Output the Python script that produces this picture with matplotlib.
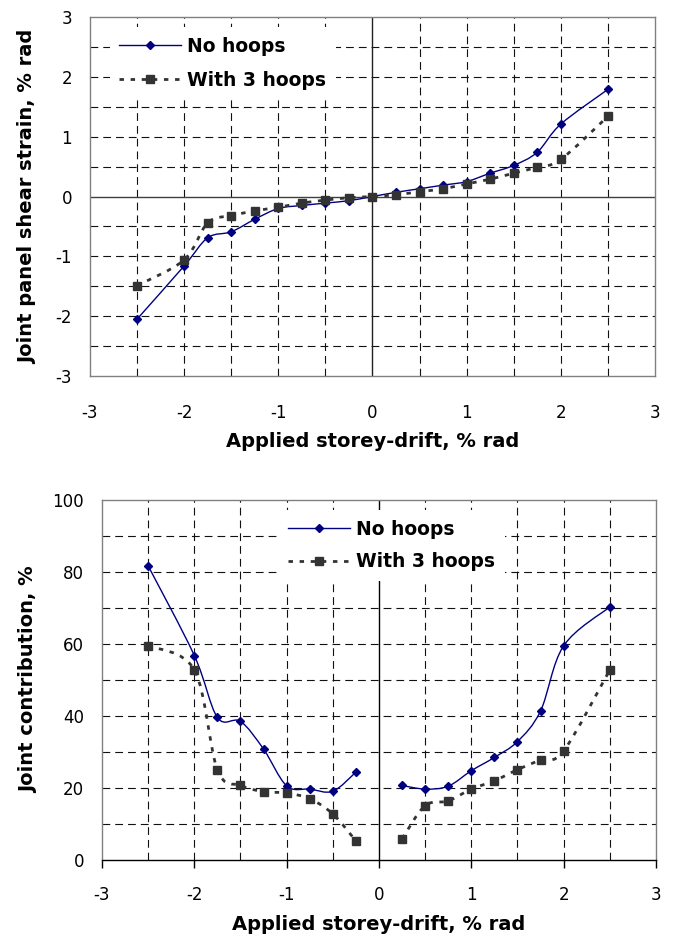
import matplotlib
matplotlib.use('Agg')
import matplotlib.pyplot as plt
from matplotlib.path import Path
from matplotlib.patches import PathPatch
from matplotlib.lines import Line2D
from matplotlib.ticker import MultipleLocator
import numpy as np

plt.rcParams['font.family'] = ['DejaVu Sans']
plt.rcParams['axes.unicode_minus'] = False

# storey drift steps, % rad
drift_top = [-2.5, -2, -1.75, -1.5, -1.25, -1, -0.75, -0.5, -0.25, 0,
             0.25, 0.5, 0.75, 1, 1.25, 1.5, 1.75, 2, 2.5]
strain_no_hoops = [-2.05, -1.16, -0.69, -0.59, -0.38, -0.20, -0.15, -0.11, -0.07, 0,
                   0.07, 0.13, 0.19, 0.25, 0.39, 0.52, 0.74, 1.21, 1.79]
strain_3_hoops = [-1.49, -1.06, -0.44, -0.32, -0.24, -0.18, -0.11, -0.06, -0.02, 0,
                  0.03, 0.08, 0.13, 0.21, 0.29, 0.39, 0.49, 0.62, 1.34]

drift_bottom = [-2.5, -2, -1.75, -1.5, -1.25, -1, -0.75, -0.5, -0.25,
                0.25, 0.5, 0.75, 1, 1.25, 1.5, 1.75, 2, 2.5]
contrib_no_hoops = [81.7, 56.8, 39.6, 38.5, 30.8, 20.6, 19.7, 19.1, 24.4,
                    20.7, 19.7, 20.5, 24.8, 28.5, 32.9, 41.4, 59.5, 70.3]
contrib_3_hoops = [59.5, 52.8, 25.0, 20.7, 19.0, 18.6, 17.0, 12.8, 5.3,
                   5.9, 15.1, 16.4, 19.7, 22.0, 25.1, 27.8, 30.3, 52.8]

labels = ["No hoops", "With 3 hoops"]

BLUE = "#000080"
GREY = "#333333"
DOTS = (0, (1.6, 2.4))
GRID_DASH = (0, (7, 4.5))


def smooth_path(xs, ys):
    """Excel-style smoothed line (Catmull-Rom as cubic Bezier)."""
    pts = np.column_stack([xs, ys]).astype(float)
    n = len(pts)
    verts = [pts[0]]
    codes = [Path.MOVETO]
    for i in range(n - 1):
        p0 = pts[i - 1] if i > 0 else pts[i]
        p1, p2 = pts[i], pts[i + 1]
        p3 = pts[i + 2] if i + 2 < n else pts[i + 1]
        verts += [p1 + (p2 - p0) / 6, p2 - (p3 - p1) / 6, p2]
        codes += [Path.CURVE4] * 3
    return Path(verts, codes)


def draw_series(ax, xs, ys, kind):
    xs = np.asarray(xs)
    ys = np.asarray(ys)
    if kind == "no":
        ax.add_patch(PathPatch(smooth_path(xs, ys), fill=False, edgecolor=BLUE,
                               lw=1.0, zorder=3))
        ax.plot(xs, ys, ls="none", marker="D", ms=4.5, color=BLUE, zorder=4)
    else:
        ax.add_patch(PathPatch(smooth_path(xs, ys), fill=False, edgecolor=GREY,
                               lw=2.0, linestyle=DOTS, capstyle="butt", zorder=3))
        ax.plot(xs, ys, ls="none", marker="s", ms=6, color=GREY, zorder=4)


def legend_handles():
    return [Line2D([], [], color=BLUE, lw=1.0, marker="D", ms=4.5),
            Line2D([], [], color=GREY, lw=2.0, ls=DOTS, marker="s", ms=6)]


def style_axes(ax):
    for s in ax.spines.values():
        s.set_color("#808080")
        s.set_linewidth(1.0)
    ax.tick_params(labelsize=12, length=0, pad=13)
    ax.set_xlim(-3, 3)
    ax.xaxis.set_major_locator(MultipleLocator(1))


fig = plt.figure(figsize=(6.75, 9.36), dpi=100)

# ---- top chart: joint panel shear strain ----
ax1 = fig.add_axes([0.1333, 0.5983, 0.837, 0.3835])
style_axes(ax1)
ax1.set_ylim(-3, 3)
ax1.yaxis.set_major_locator(MultipleLocator(1))
for v in np.arange(-2.5, 2.51, 0.5):
    if abs(v) > 1e-9:
        ax1.axvline(v, color="#111111", lw=0.8, ls=GRID_DASH, zorder=1)
        ax1.axhline(v, color="#111111", lw=0.8, ls=GRID_DASH, zorder=1)
ax1.axhline(0, color="#404040", lw=1.0, zorder=2)
ax1.axvline(0, color="#202020", lw=1.0, zorder=2)
ax1.tick_params(axis="x", pad=20)

draw_series(ax1, drift_top, strain_no_hoops, "no")
draw_series(ax1, drift_top, strain_3_hoops, "with")

leg1 = ax1.legend(legend_handles(), labels, loc="upper left",
                  bbox_to_anchor=(0.018, 0.997), frameon=True, fancybox=False,
                  edgecolor="none", facecolor="white", framealpha=1,
                  handlelength=3.3, handletextpad=0.35, labelspacing=0.8,
                  borderpad=0.5, prop={"weight": "bold", "size": 13.5})
leg1.set_zorder(5)

ax1.set_xlabel("Applied storey-drift, % rad", fontsize=14, fontweight="bold")
ax1.set_ylabel("Joint panel shear strain, % rad", fontsize=14, fontweight="bold")
ax1.xaxis.set_label_coords(0.5, -0.183)
ax1.xaxis.label.set_va("center")
ax1.yaxis.set_label_coords(-0.11, 0.5)
ax1.yaxis.label.set_va("center")

# ---- bottom chart: joint contribution ----
ax2 = fig.add_axes([0.1511, 0.0812, 0.8207, 0.3846])
style_axes(ax2)
ax2.set_ylim(0, 100)
ax2.yaxis.set_major_locator(MultipleLocator(20))
for v in np.arange(-2.5, 2.51, 0.5):
    if abs(v) > 1e-9:
        ax2.axvline(v, color="#111111", lw=0.8, ls=GRID_DASH, zorder=1)
for v in range(10, 100, 10):
    ax2.axhline(v, color="#111111", lw=0.8, ls=GRID_DASH, zorder=1)
ax2.axvline(0, color="#000000", lw=1.0, zorder=2)
ax2.spines["bottom"].set_color("#000000")
ax2.tick_params(axis="x", length=6, width=1.0, color="#000000", direction="out", pad=13)

xb = np.asarray(drift_bottom)
neg = xb < 0
pos = xb > 0
for vals, kind in [(contrib_no_hoops, "no"), (contrib_3_hoops, "with")]:
    vals = np.asarray(vals)
    draw_series(ax2, xb[neg], vals[neg], kind)
    draw_series(ax2, xb[pos], vals[pos], kind)

leg2 = ax2.legend(legend_handles(), labels, loc="upper left",
                  bbox_to_anchor=(0.302, 0.997), frameon=True, fancybox=False,
                  edgecolor="none", facecolor="white", framealpha=1,
                  handlelength=3.3, handletextpad=0.35, labelspacing=0.72,
                  borderpad=0.5, prop={"weight": "bold", "size": 13.5})
leg2.set_zorder(5)

ax2.set_xlabel("Applied storey-drift, % rad", fontsize=14, fontweight="bold")
ax2.set_ylabel("Joint contribution, %", fontsize=14, fontweight="bold")
ax2.xaxis.set_label_coords(0.5, -0.18)
ax2.xaxis.label.set_va("center")
ax2.yaxis.set_label_coords(-0.133, 0.5)
ax2.yaxis.label.set_va("center")

fig.savefig("out.png", dpi=100)
plt.close(fig)
